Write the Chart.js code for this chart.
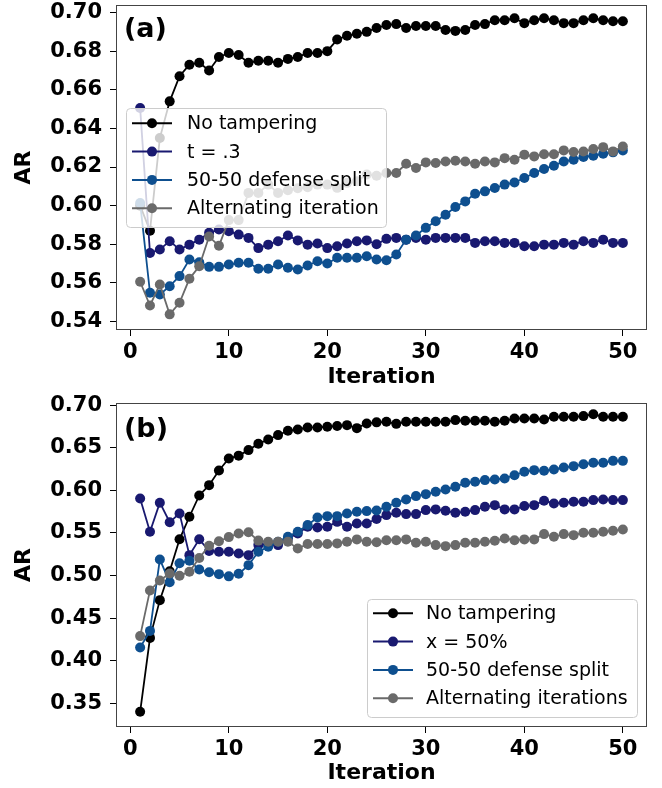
<!DOCTYPE html>
<html>
<head>
<meta charset="utf-8">
<script src="https://cdn.jsdelivr.net/npm/chart.js@4/dist/chart.umd.min.js"></script>
<style>
  html, body { margin: 0; padding: 0; background: #fff; }
  #wrap { position: relative; width: 662px; height: 788px; }
  canvas { position: absolute; left: 0; }
  #chartA { top: 0; }
  #chartB { top: 394px; }
</style>
</head>
<body>
<div id="wrap">
  <canvas id="chartA" width="662" height="394"></canvas>
  <canvas id="chartB" width="662" height="394"></canvas>
</div>
<script>
// Iteration numbers (x values)
const iterations = [1,2,3,4,5,6,7,8,9,10,11,12,13,14,15,16,17,18,19,20,21,22,23,24,25,
  26,27,28,29,30,31,32,33,34,35,36,37,38,39,40,41,42,43,44,45,46,47,48,49,50];
const xTicks = [0, 10, 20, 30, 40, 50];
const yTicksA = [0.54, 0.56, 0.58, 0.60, 0.62, 0.64, 0.66, 0.68, 0.70];
const yTicksB = [0.35, 0.40, 0.45, 0.50, 0.55, 0.60, 0.65, 0.70];

const labelsA = ['No tampering', 't = .3', '50-50 defense split', 'Alternating iteration'];
const labelsB = ['No tampering', 'x = 50%', '50-50 defense split', 'Alternating iterations'];
const colors = ['#000000', '#191970', '#0e4f8f', '#6a6a6a'];

// Panel (a)
const noTamperA = [0.600,0.587,0.635,0.654,0.667,0.673,0.674,0.670,0.677,0.679,
  0.678,0.674,0.675,0.675,0.674,0.676,0.677,0.679,0.679,0.680,
  0.686,0.688,0.689,0.690,0.692,0.6935,0.694,0.692,0.693,0.693,
  0.693,0.691,0.6905,0.691,0.6935,0.694,0.696,0.696,0.697,0.6945,
  0.696,0.697,0.696,0.6945,0.6945,0.696,0.697,0.696,0.6955,0.6955];
const tA = [0.6506,0.5755,0.5773,0.5816,0.5773,0.5798,0.5824,0.5859,0.5876,0.5867,
  0.585,0.5833,0.578,0.5798,0.5816,0.5845,0.582,0.5798,0.5804,0.578,
  0.579,0.5804,0.5816,0.582,0.580,0.5828,0.5833,0.5824,0.5833,0.5824,
  0.5833,0.5833,0.5833,0.5833,0.5807,0.5816,0.5816,0.5807,0.5807,0.579,
  0.579,0.5798,0.5798,0.5807,0.5798,0.5816,0.5807,0.5824,0.5807,0.5807];
const splitA = [0.6014,0.5549,0.554,0.5583,0.5635,0.5721,0.5707,0.5683,0.5683,0.5695,
  0.5704,0.5704,0.5673,0.5673,0.5695,0.5678,0.5669,0.569,0.5712,0.570,
  0.573,0.573,0.573,0.5738,0.5721,0.5717,0.5747,0.5824,0.5845,0.5885,
  0.5919,0.5953,0.5993,0.6022,0.6062,0.6074,0.6091,0.6109,0.612,0.6143,
  0.6169,0.619,0.6207,0.6229,0.6238,0.6252,0.6258,0.6269,0.6276,0.6286];
const altA = [0.5606,0.5483,0.5592,0.5437,0.5497,0.5621,0.5686,0.584,0.5792,0.5925,
  0.5925,0.6066,0.6066,0.6109,0.6066,0.608,0.609,0.6095,0.6109,0.6109,
  0.6092,0.6118,0.6126,0.6161,0.6155,0.6169,0.6169,0.6217,0.6195,0.6224,
  0.6221,0.6229,0.6232,0.6229,0.6217,0.6229,0.6224,0.6246,0.6238,0.6264,
  0.6255,0.6266,0.6266,0.6286,0.6278,0.628,0.6293,0.6303,0.6281,0.6306];

// Panel (b)
const noTamperB = [0.340,0.4268,0.4711,0.505,0.5425,0.569,0.594,0.6061,0.6233,0.6374,
  0.6407,0.6472,0.6546,0.6597,0.6648,0.6699,0.6715,0.6738,0.6738,0.6746,
  0.6754,0.6765,0.673,0.6785,0.6798,0.6804,0.678,0.6804,0.6804,0.6804,
  0.6804,0.6804,0.6824,0.6816,0.6816,0.6816,0.6804,0.6816,0.6843,0.6843,
  0.6843,0.6832,0.6863,0.6863,0.6863,0.6871,0.6894,0.6863,0.6863,0.6863];
const xB = [0.5905,0.5513,0.5855,0.5625,0.5729,0.5239,0.5425,0.5288,0.5278,0.5278,
  0.5259,0.5239,0.5357,0.5369,0.5357,0.5435,0.5494,0.5572,0.5564,0.5572,
  0.563,0.5572,0.5611,0.5611,0.5664,0.5709,0.5736,0.5721,0.5721,0.5768,
  0.5776,0.576,0.5736,0.5748,0.5768,0.5807,0.5826,0.5776,0.5776,0.5815,
  0.5826,0.5877,0.5846,0.5854,0.5866,0.5866,0.5885,0.5893,0.5885,0.5885];
const splitB = [0.4156,0.435,0.5189,0.492,0.5145,0.5173,0.507,0.5038,0.5016,0.499,
  0.502,0.5122,0.5278,0.5337,0.5396,0.5455,0.5513,0.5592,0.5682,0.5697,
  0.5697,0.5729,0.5748,0.5756,0.5764,0.5807,0.5854,0.5893,0.5932,0.5955,
  0.5983,0.601,0.6041,0.6088,0.61,0.612,0.6127,0.6139,0.6178,0.6217,
  0.6237,0.6229,0.6245,0.6268,0.6284,0.6307,0.6323,0.6323,0.6346,0.6346];
const altB = [0.4289,0.4825,0.4942,0.5024,0.4998,0.5044,0.5206,0.535,0.5402,0.5451,
  0.5494,0.5508,0.541,0.5396,0.5396,0.5396,0.5318,0.5369,0.5369,0.5369,
  0.5377,0.5396,0.5424,0.5396,0.539,0.5415,0.5415,0.5424,0.5385,0.5396,
  0.5357,0.5345,0.5357,0.5385,0.5385,0.5396,0.5408,0.5435,0.5415,0.5424,
  0.5424,0.5486,0.5455,0.5486,0.5474,0.5502,0.5502,0.5513,0.5525,0.5541];

Chart.defaults.font.family = '"DejaVu Sans", sans-serif';
Chart.defaults.color = '#000';

// frame, panel tag and matplotlib-like legend
const panelDecor = {
  id: 'panelDecor',
  afterDraw(chart, args, opts) {
    const ctx = chart.ctx;
    const a = chart.chartArea;
    ctx.save();
    ctx.strokeStyle = '#444';
    ctx.lineWidth = 1;
    ctx.strokeRect(a.left + 0.5, a.top + 0.5, a.right - a.left - 1, a.bottom - a.top - 1);

    ctx.fillStyle = '#000';
    ctx.font = 'bold 27px "DejaVu Sans"';
    ctx.textBaseline = 'middle';
    ctx.textAlign = 'left';
    ctx.fillText(opts.tag, opts.tagX, opts.tagY);

    const L = opts.legend;
    ctx.beginPath();
    ctx.roundRect(L.x + 0.5, L.y + 0.5, L.w, L.h, 4);
    ctx.fillStyle = 'rgba(255,255,255,0.8)';
    ctx.fill();
    ctx.strokeStyle = '#cccccc';
    ctx.stroke();

    ctx.font = '19px "DejaVu Sans"';
    chart.data.datasets.forEach((ds, i) => {
      const y = L.rowY + i * L.rowGap;
      ctx.strokeStyle = ds.borderColor;
      ctx.lineWidth = 2;
      ctx.beginPath();
      ctx.moveTo(L.lineX0, y);
      ctx.lineTo(L.lineX1, y);
      ctx.stroke();
      ctx.fillStyle = ds.borderColor;
      ctx.beginPath();
      ctx.arc((L.lineX0 + L.lineX1) / 2, y, 5, 0, Math.PI * 2);
      ctx.fill();
      ctx.fillStyle = '#000';
      ctx.fillText(ds.label, L.textX, y + 1);
    });
    ctx.restore();
  }
};

function zeroPadding(scale) {
  scale.paddingTop = 0;
  scale.paddingBottom = 0;
  scale.paddingLeft = 0;
  scale.paddingRight = 0;
}

function makeDatasets(labels, series) {
  // later series drawn on top, as in the original
  return series.map((vals, i) => ({
    label: labels[i],
    data: iterations.map((it, k) => ({ x: it, y: vals[k] })),
    borderColor: colors[i],
    backgroundColor: colors[i],
    pointBackgroundColor: colors[i],
    pointBorderWidth: 0,
    pointRadius: 5,
    borderWidth: 1.8,
    tension: 0,
    order: series.length - i
  }));
}

function makeChart(id, cfg) {
  return new Chart(document.getElementById(id), {
    type: 'line',
    data: { datasets: makeDatasets(cfg.labels, cfg.series) },
    plugins: [panelDecor],
    options: {
      responsive: false,
      animation: false,
      devicePixelRatio: 1,
      layout: { padding: { top: cfg.padTop, right: 15, left: 0, bottom: 0 } },
      plugins: {
        legend: { display: false },
        tooltip: { enabled: false },
        panelDecor: { tag: cfg.tag, tagX: 124, tagY: cfg.tagY, legend: cfg.legend }
      },
      scales: {
        x: {
          type: 'linear',
          min: -1.45,
          max: 52.45,
          afterBuildTicks: s => { s.ticks = xTicks.map(v => ({ value: v })); },
          afterFit: s => { s.height = cfg.xAxisH; zeroPadding(s); },
          grid: { drawOnChartArea: false, drawTicks: true, tickLength: 6, tickColor: '#000', tickWidth: 1 },
          border: { display: false },
          ticks: { font: { size: 21, weight: 'bold' }, padding: 4, maxRotation: 0, color: '#000' },
          title: { display: true, text: 'Iteration', font: { size: 22, weight: 'bold' },
                   padding: { top: 0, bottom: cfg.xTitlePad }, color: '#000' }
        },
        y: {
          type: 'linear',
          min: cfg.yMin,
          max: cfg.yMax,
          afterBuildTicks: s => { s.ticks = cfg.yTicks.map(v => ({ value: v })); },
          afterFit: s => { s.width = 116; zeroPadding(s); },
          grid: { drawOnChartArea: false, drawTicks: true, tickLength: 6, tickColor: '#000', tickWidth: 1 },
          border: { display: false },
          ticks: { font: { size: 21, weight: 'bold' }, padding: 8, color: '#000',
                   callback: v => v.toFixed(2) },
          title: { display: true, text: 'AR', font: { size: 22, weight: 'bold' },
                   padding: { top: 11, bottom: 0 }, color: '#000' }
        }
      }
    }
  });
}

makeChart('chartA', {
  labels: labelsA,
  series: [noTamperA, tA, splitA, altA],
  yTicks: yTicksA, yMin: 0.5356, yMax: 0.7039,
  padTop: 5, xAxisH: 64, xTitlePad: 4,
  tag: '(a)', tagY: 30,
  legend: { x: 126, y: 108, w: 260, h: 119, rowY: 123.3, rowGap: 28.3,
            lineX0: 132, lineX1: 172, textX: 187 }
});

makeChart('chartB', {
  labels: labelsB,
  series: [noTamperB, xB, splitB, altB],
  yTicks: yTicksB, yMin: 0.3222, yMax: 0.7025,
  padTop: 9, xAxisH: 61, xTitlePad: 2,
  tag: '(b)', tagY: 36,
  legend: { x: 367, y: 205, w: 270, h: 118, rowY: 219.3, rowGap: 28.3,
            lineX0: 373, lineX1: 413, textX: 426 }
});
</script>
</body>
</html>
